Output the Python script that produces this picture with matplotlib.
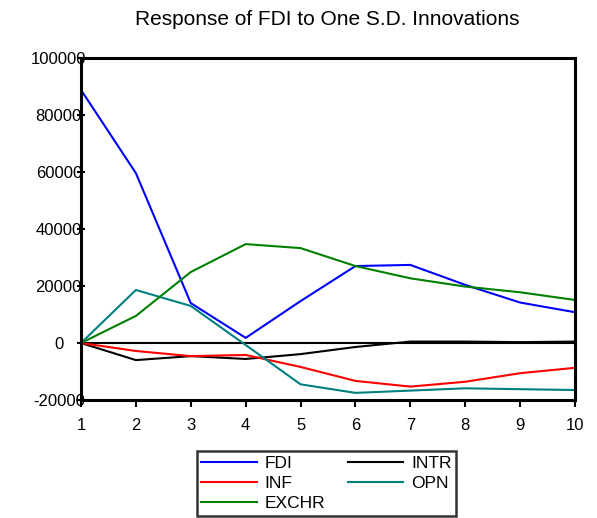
import matplotlib
matplotlib.use("Agg")
import matplotlib.pyplot as plt

plt.rcParams['font.family'] = ['Liberation Sans', 'DejaVu Sans']

periods = [1, 2, 3, 4, 5, 6, 7, 8, 9, 10]
fdi = [88800, 59600, 14000, 1800, 14700, 27000, 27400, 20400, 14200, 10800]
intr = [0, -6000, -4600, -5600, -3900, -1400, 500, 500, 300, 500]
inf = [0, -2800, -4600, -4200, -8400, -13300, -15300, -13600, -10600, -8700]
opn = [0, 18600, 13000, -700, -14500, -17500, -16700, -15900, -16200, -16500]
exchr = [0, 9500, 24900, 34700, 33300, 27000, 22700, 19800, 17800, 15100]

yticks = [-20000, 0, 20000, 40000, 60000, 80000, 100000]

fig = plt.figure(figsize=(5.97, 5.18), dpi=100)
ax = fig.add_axes([0.1357, 0.2278, 0.8274, 0.6602])

lw = 1.5
l_fdi, = ax.plot(periods, fdi, color='#0000ff', lw=lw)
l_intr, = ax.plot(periods, intr, color='black', lw=lw)
l_inf, = ax.plot(periods, inf, color='#ff0000', lw=lw)
l_opn, = ax.plot(periods, opn, color='#008080', lw=lw)
l_exchr, = ax.plot(periods, exchr, color='#008000', lw=lw)
ax.axhline(0, color='black', lw=1.5, zorder=1)

ax.set_xlim(1, 10)
ax.set_ylim(-20000, 100000)
ax.set_xticks(periods)
ax.set_yticks(yticks)
ax.set_yticklabels([str(v) for v in yticks], ha='center')
for s in ax.spines.values():
    s.set_linewidth(2.2)
ax.tick_params(axis='x', direction='out', length=5, width=1.5, labelsize=12, pad=8)
ax.tick_params(axis='y', direction='inout', length=6, width=1.5, labelsize=12, pad=13)

fig.text(0.548, 0.963, 'Response of FDI to One S.D. Innovations', ha='center', va='center',
         fontsize=15)

# legend filled row by row: FDI INTR / INF OPN / EXCHR
leg = fig.legend([l_fdi, l_inf, l_exchr, l_intr, l_opn],
                 ['FDI', 'INF', 'EXCHR', 'INTR', 'OPN'],
                 ncol=2, loc='upper left', bbox_to_anchor=(0.330, 0.129),
                 borderaxespad=0, fontsize=12.5, frameon=True, fancybox=False,
                 edgecolor='black', handlelength=3.2, labelspacing=0.3, borderpad=0.25,
                 columnspacing=1.3, handletextpad=0.45)
leg.get_frame().set_linewidth(1.8)

fig.savefig('out.png', dpi=100)
